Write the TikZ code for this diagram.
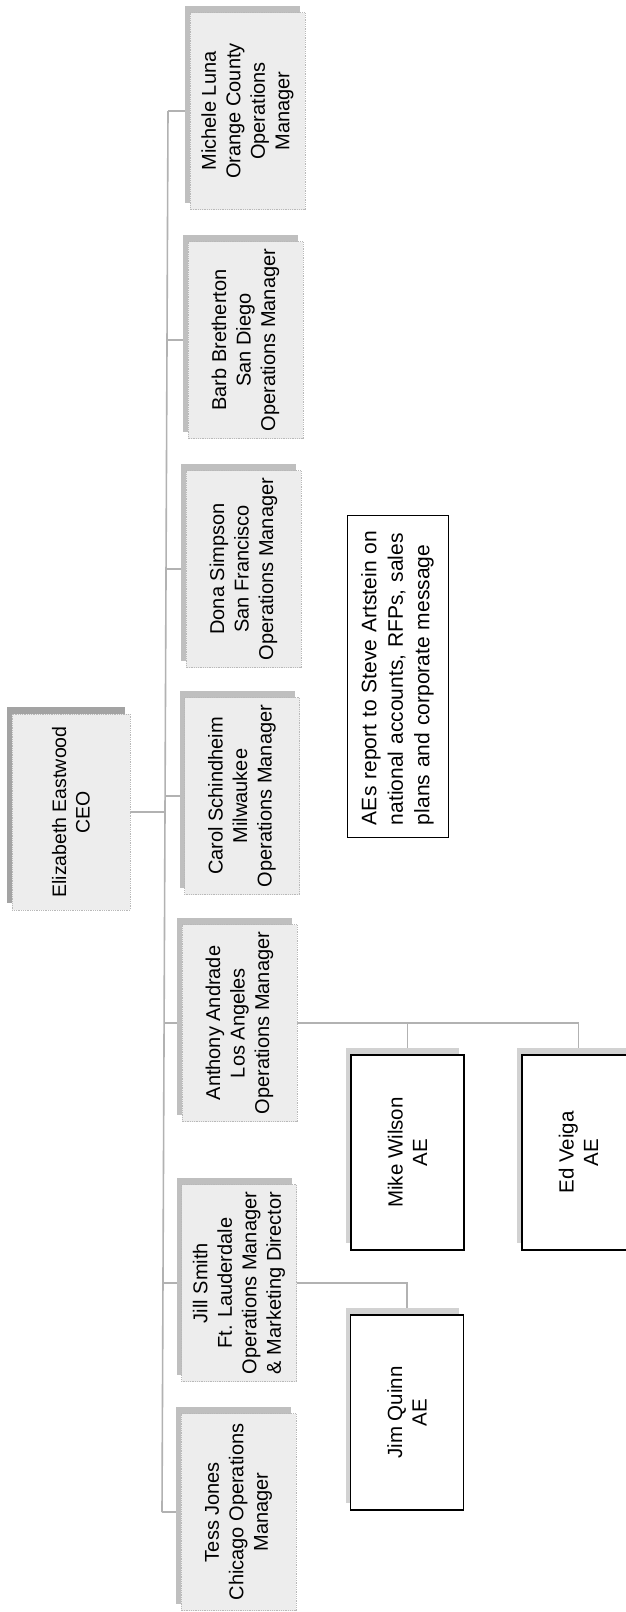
\documentclass[tikz,border=0pt]{standalone}
\usepackage{fontspec}
\setmainfont{Liberation Sans}
\pgfdeclarelayer{background}
\pgfdeclarelayer{paper}
\pgfsetlayers{paper,background,main}
\begin{document}
\begin{tikzpicture}[x=1pt,y=-1pt,
  conn/.style={draw=gray!60, line width=1.6pt},
  mgr/.style={rotate=90, draw=gray!55, densely dotted, line width=0.8pt, fill=gray!14,
    minimum width=197pt, minimum height=115pt, inner sep=0pt, align=center,
    font=\fontsize{20}{24.5}\selectfont},
  mgrsh/.style={rotate=90, fill=gray!50, minimum width=197pt, minimum height=115pt, inner sep=0pt},
  ceobox/.style={mgr, minimum width=196pt, minimum height=118pt, font=\fontsize{19.5}{23.5}\selectfont},
  ceosh/.style={mgrsh, fill=gray!72, minimum width=196pt, minimum height=118pt},
  aebox/.style={rotate=90, draw=black, line width=1.5pt, fill=white,
    minimum width=195pt, minimum height=113pt, inner sep=0pt, align=center,
    font=\fontsize{20.5}{24.5}\selectfont},
  aesh/.style={rotate=90, fill=gray!35, minimum width=195pt, minimum height=113pt, inner sep=0pt},
  notebox/.style={rotate=90, draw=black, line width=1pt, fill=white,
    text width=298pt, inner xsep=12pt, minimum height=101pt, align=left,
    font=\fontsize{21}{26.5}\selectfont}
]
\begin{pgfonlayer}{paper}
\fill[white] (0,0) rectangle (625,1612);
\end{pgfonlayer}
\useasboundingbox (0,0) rectangle (625,1612);

% CEO
\node[ceosh] (ceosh) at (66,805) {};
\node[ceobox] (ceo) at (71,812) {Elizabeth Eastwood\\CEO};

% managers
\node[mgrsh] (m1sh) at (242.5,104) {};
\node[mgr] (m1) at (247.5,111) {Michele Luna\\Orange County\\Operations\\Manager};
\node[mgrsh] (m2sh) at (240.5,333) {};
\node[mgr] (m2) at (245.5,340) {Barb Bretherton\\San Diego\\Operations Manager};
\node[mgrsh] (m3sh) at (238.5,562) {};
\node[mgr] (m3) at (243.5,569) {Dona Simpson\\San Francisco\\Operations Manager};
\node[mgrsh] (m4sh) at (237,789) {};
\node[mgr] (m4) at (242,796) {Carol Schindheim\\Milwaukee\\Operations Manager};
\node[mgrsh] (m5sh) at (234.5,1016) {};
\node[mgr] (m5) at (239.5,1023) {Anthony Andrade\\Los Angeles\\Operations Manager};
\node[mgrsh] (m6sh) at (234,1276) {};
\node[mgr] (m6) at (239,1283) {Jill Smith\\Ft. Lauderdale\\Operations Manager\\\& Marketing Director};
\node[mgrsh] (m7sh) at (233.5,1505) {};
\node[mgr] (m7) at (238.5,1512) {Tess Jones\\Chicago Operations\\Manager};

% AEs
\node[aesh] (mikesh) at (402.5,1145.5) {};
\node[aebox] (mike) at (407.5,1152.5) {Mike Wilson\\AE};
\node[aesh] (edsh) at (573.5,1145.5) {};
\node[aebox] (ed) at (578.5,1152.5) {Ed Veiga\\AE};
\node[aesh] (jimsh) at (402,1405.5) {};
\node[aebox] (jim) at (407,1412.5) {Jim Quinn\\AE};

% note
\node[notebox] (note) at (397.5,676) {AEs report to Steve Artstein on\\national accounts, RFPs, sales\\plans and corporate message};

% spine coordinates
\coordinate (s1) at (168,111);
\coordinate (s2) at (167,340);
\coordinate (s3) at (166,569);
\coordinate (sC) at (165,812);
\coordinate (s4) at (165,796);
\coordinate (s5) at (164,1023);
\coordinate (s6) at (163,1283);
\coordinate (s7) at (162,1512);

\begin{pgfonlayer}{background}
\draw[conn] (ceo.south) -- (sC);
\draw[conn] (s1) -- (s7);
\draw[conn] (s1) -- (m1.north);
\draw[conn] (s2) -- (m2.north);
\draw[conn] (s3) -- (m3.north);
\draw[conn] (s4) -- (m4.north);
\draw[conn] (s5) -- (m5.north);
\draw[conn] (s6) -- (m6.north);
\draw[conn] (s7) -- (m7.north);
\draw[conn] (m5.south) -| (ed.east);
\draw[conn] (m5.south) -| (mike.east);
\draw[conn] (m6.south) -| (jim.east);
\end{pgfonlayer}
\end{tikzpicture}
\end{document}
